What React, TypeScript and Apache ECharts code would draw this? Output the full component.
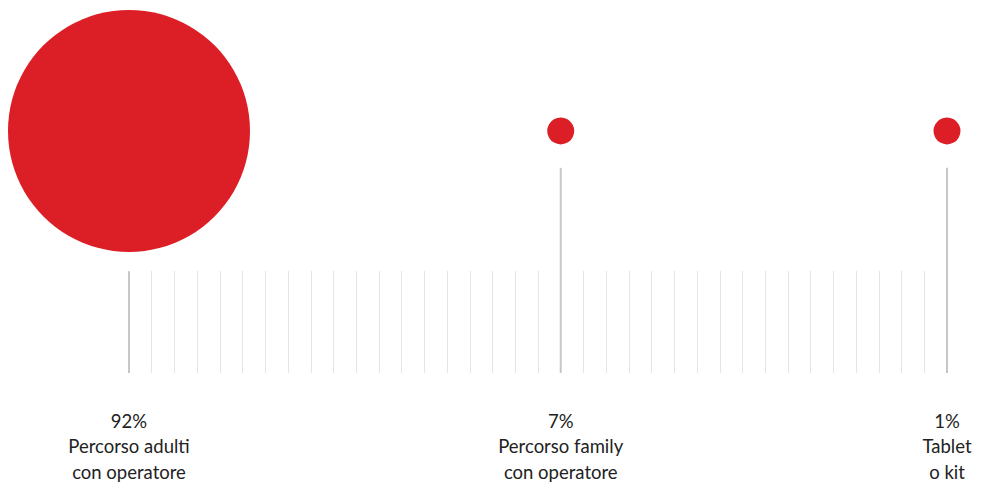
import React, { useEffect, useRef } from "react";
import * as echarts from "echarts";

// Data
const TICK_COUNT = 37; // number of tick marks along the scale
const positions = [0, 19, 36]; // tick index of each category
const percents = [92, 7, 1];
const names = ["Percorso adulti\ncon operatore", "Percorso family\ncon operatore", "Tablet\no kit"];

const RED = "#dc1f26";

export default function App() {
  const ref = useRef<HTMLDivElement>(null);
  useEffect(() => {
    if (!ref.current) return;
    const chart = echarts.init(ref.current, undefined, { renderer: "svg" });
    const cats = Array.from({ length: TICK_COUNT }, (_, i) => String(i));
    const circleLevel = 64.9;
    const stemLevel = 55;
    const firstStem = 27.3;
    const barData = cats.map((_, i) => {
      const k = positions.indexOf(i);
      if (k < 0) return null;
      return k === 0 ? firstStem : stemLevel;
    });
    chart.setOption({
      animation: false,
      grid: { left: 129, right: 34, top: 0, bottom: 113 },
      xAxis: {
        type: "category",
        data: cats,
        boundaryGap: false,
        axisLine: { show: false },
        axisTick: {
          show: true,
          inside: true,
          length: 102,
          interval: 0,
          lineStyle: { color: "#e4e4e4", width: 1 },
        },
        axisLabel: {
          interval: 0,
          margin: 35,
          fontFamily: "Lato",
          fontSize: 18.5,
          lineHeight: 25.5,
          color: "#222",
          align: "center",
          formatter: (_v: string, idx: number) => {
            const k = positions.indexOf(idx);
            if (k < 0) return "";
            return percents[k] + "%\n" + names[k];
          },
        },
        splitLine: { show: false },
      },
      yAxis: {
        type: "value",
        min: 0,
        max: 100,
        show: false,
      },
      series: [
        {
          type: "bar",
          data: barData,
          barWidth: 2,
          itemStyle: { color: "#c6c6c6" },
          silent: true,
          z: 1,
        },
        {
          type: "scatter",
          data: positions.map((p, k) => [p, circleLevel, percents[k]]),
          symbolSize: (v: number[]) => (v[2] > 50 ? 242 : 27),
          itemStyle: { color: RED, opacity: 1 },
          z: 3,
        },
      ],
    });
    return () => chart.dispose();
  }, []);
  return (
    <div
      ref={ref}
      style={{ position: "fixed", left: 0, top: 0, width: 981, height: 486, background: "#fff" }}
    />
  );
}
